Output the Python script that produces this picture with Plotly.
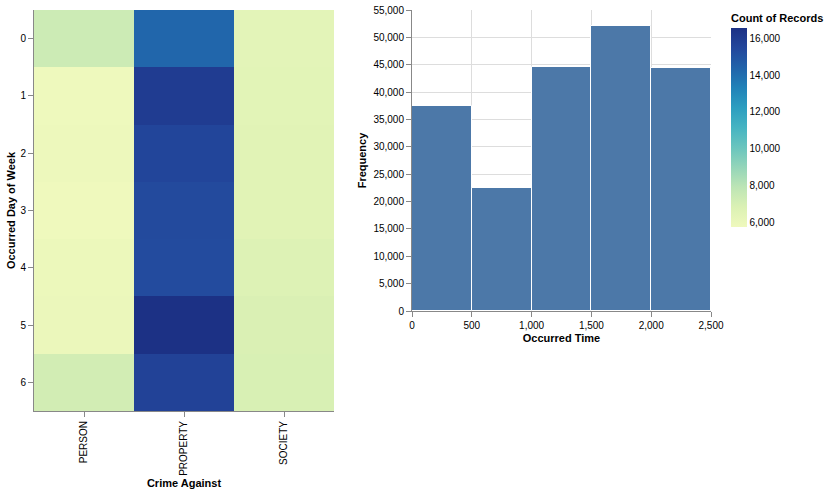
import plotly.graph_objects as go

# ---- data ----
crime_against = ["PERSON", "PROPERTY", "SOCIETY"]
day_of_week = ["0", "1", "2", "3", "4", "5", "6"]
# counts per day of week for each crime category
person_counts = [7390, 5800, 5900, 5770, 5950, 6000, 7170]
property_counts = [14290, 16000, 15560, 15360, 15300, 16550, 15700]
society_counts = [6420, 6450, 6550, 6550, 6750, 6900, 6950]

bin_starts = [0, 500, 1000, 1500, 2000]
bin_width = 500
bin_counts = [37400, 22500, 44500, 52100, 44400]

colorbar_ticks = [6000, 8000, 10000, 12000, 14000, 16000]

# vega "yellowgreenblue" scheme
ygb = ["#eff9bd", "#dbf1b4", "#bde5b5", "#94d5b9", "#69c5be", "#45b4c2",
       "#2c9ec0", "#2182b8", "#2163aa", "#23479c", "#1c3185"]
colorscale = [[i / (len(ygb) - 1), c] for i, c in enumerate(ygb)]

z = [[person_counts[i], property_counts[i], society_counts[i]] for i in range(len(day_of_week))]

FONT = "Liberation Sans, Arial, Helvetica, sans-serif"
W, H = 829, 493

def px_x(p):
    return p / W

def px_y(p):
    return 1 - p / H

fig = go.Figure()

fig.add_trace(go.Heatmap(
    x=crime_against, y=day_of_week, z=z,
    colorscale=colorscale,
    xaxis="x", yaxis="y",
    colorbar=dict(
        title=dict(text="<b>Count of Records</b>", side="top",
                   font=dict(size=11, color="#000", family=FONT)),
        x=px_x(731), xanchor="left",
        y=px_y(11), yanchor="top",
        len=(227 - 11) / H, lenmode="fraction",
        thickness=16, thicknessmode="pixels",
        outlinewidth=0,
        tickvals=colorbar_ticks, tickformat=",",
        ticks="", ticklabelposition="outside",
        tickfont=dict(size=10, color="#000", family=FONT),
        xpad=0, ypad=0,
    ),
))

fig.add_trace(go.Bar(
    x=bin_starts, y=bin_counts, width=bin_width, offset=0,
    marker=dict(color="#4c78a8", line=dict(color="white", width=1)),
    xaxis="x2", yaxis="y2",
))

axis_common = dict(
    showline=True, linecolor="#888", linewidth=1,
    ticks="outside", tickcolor="#888", ticklen=5, tickwidth=1,
    tickfont=dict(size=10, color="#000", family=FONT),
    zeroline=False, automargin=False,
)

fig.update_layout(
    width=W, height=H,
    margin=dict(l=0, r=0, t=0, b=0),
    plot_bgcolor="white", paper_bgcolor="white",
    showlegend=False,
    font=dict(family=FONT, color="#000"),
    bargap=0,
    xaxis=dict(
        domain=[px_x(34), px_x(334)], anchor="y",
        tickangle=-90, showgrid=False,
        title=dict(text="<b>Crime Against</b>", font=dict(size=11, family=FONT), standoff=4),
        **axis_common,
    ),
    yaxis=dict(
        domain=[px_y(411), px_y(10)], anchor="x",
        autorange="reversed", showgrid=False,
        title=dict(text="<b>Occurred Day of Week</b>", font=dict(size=11, family=FONT), standoff=2),
        **axis_common,
    ),
    xaxis2=dict(
        domain=[px_x(412), px_x(711)], anchor="y2",
        range=[0, 2500], tickvals=[0, 500, 1000, 1500, 2000, 2500], tickformat=",",
        showgrid=True, gridcolor="#ddd",
        title=dict(text="<b>Occurred Time</b>", font=dict(size=11, family=FONT), standoff=4),
        **axis_common,
    ),
    yaxis2=dict(
        domain=[px_y(311), px_y(10)], anchor="x2",
        range=[0, 55000], dtick=5000, tickformat=",",
        showgrid=True, gridcolor="#ddd",
        title=dict(text="<b>Frequency</b>", font=dict(size=11, family=FONT), standoff=4),
        **axis_common,
    ),
)

fig.write_html("out.html", config={"displayModeBar": False},
               post_script="document.body.style.margin='0';")
